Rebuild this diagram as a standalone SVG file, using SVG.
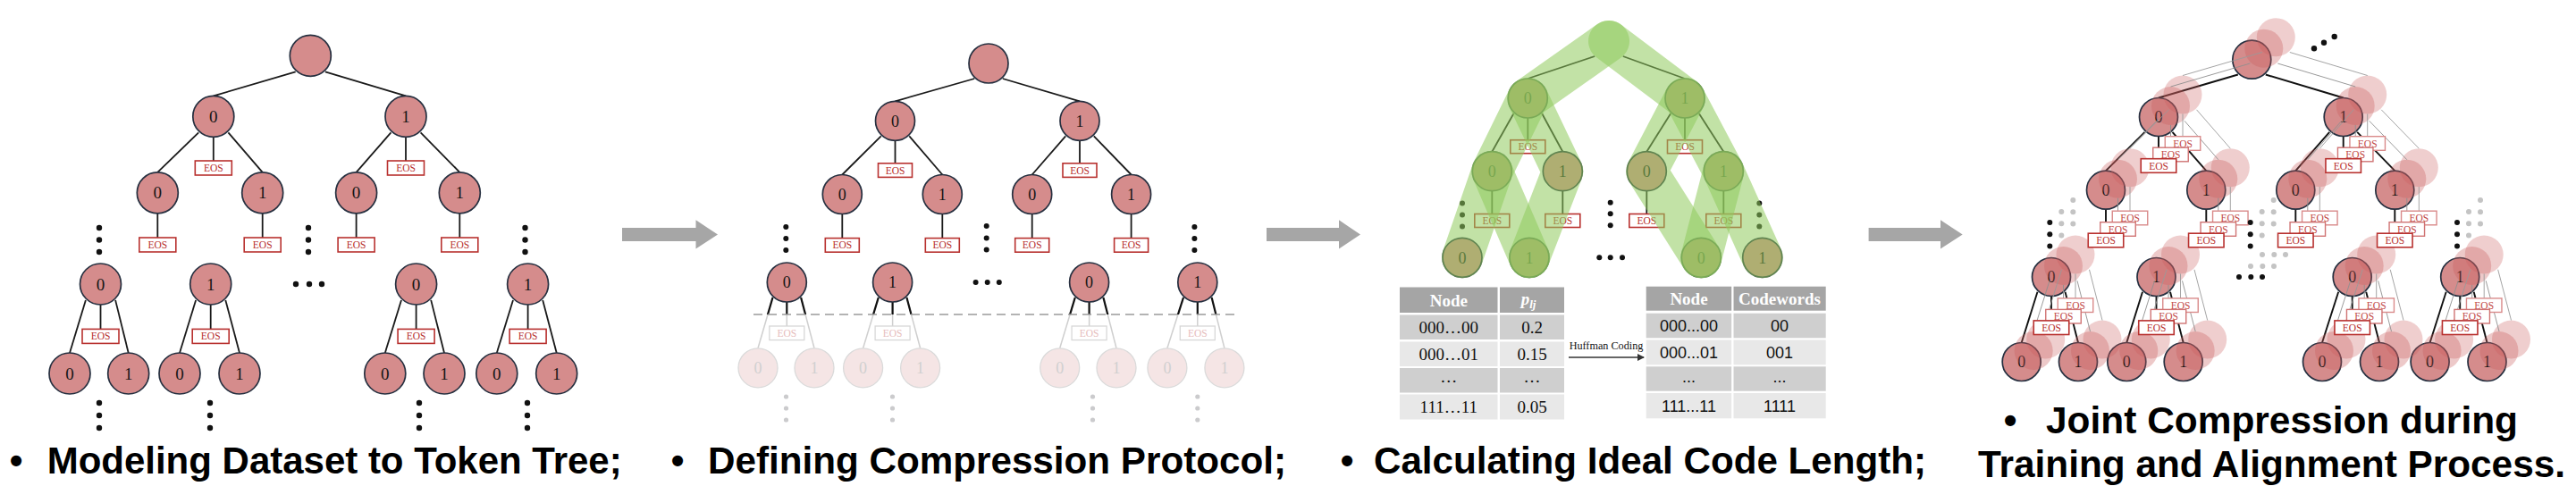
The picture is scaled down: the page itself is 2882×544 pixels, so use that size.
<svg xmlns="http://www.w3.org/2000/svg" xmlns:xlink="http://www.w3.org/1999/xlink" width="2882" height="544" viewBox="0 0 2882 544">
<style>
.n{fill:#d58c8c;stroke:#263040;stroke-width:1.7}
.nt{font-family:"Liberation Serif","Times New Roman",serif;font-size:18px;fill:#161616;text-anchor:middle}
.nt1{font-size:19px}
.fn{fill:#f5e5e5;stroke:#dadada;stroke-width:1.3}
.ft{font-family:"Liberation Serif",serif;font-size:18px;fill:#d0d0d0;text-anchor:middle}
.eos rect{fill:#fff;stroke:#b8312f;stroke-width:1.6}
.eos text{font-family:"Liberation Serif",serif;font-size:11.5px;fill:#b8312f;text-anchor:middle}
.feos rect{fill:#fff;stroke:#d8d8d8;stroke-width:1.3}
.feos text{font-family:"Liberation Serif",serif;font-size:11.5px;fill:#e6bcbc;text-anchor:middle}
.e line{stroke:#1a1a1a;stroke-width:1.8}
.dot{fill:#111}
.fdot{fill:#cbcbcd}
.band{fill:none;stroke:#8fcb5c;stroke-opacity:.55;stroke-width:46;stroke-linecap:round;stroke-linejoin:round}
.cap{font-family:"Liberation Sans",Arial,sans-serif;font-weight:bold;font-size:42px;fill:#000}
.bul{font-family:"Liberation Sans",Arial,sans-serif;font-weight:bold;font-size:42px;fill:#000;text-anchor:middle}
.arrow{fill:#a6a6a6}
.th{font-family:"Liberation Serif",serif;font-weight:bold;font-size:19px;fill:#fff;text-anchor:middle}
.td1{font-family:"Liberation Serif",serif;font-size:19px;fill:#111;text-anchor:middle}
.td2{font-family:"Liberation Sans",Arial,sans-serif;font-size:18px;fill:#111;text-anchor:middle}
.hdr{fill:#a5a5a5}
.rd{fill:#cfcfcf}
.rl{fill:#e8e8e8}
</style>
<defs>
<clipPath id="above"><rect x="800" y="290" width="620" height="62"/></clipPath>
<marker id="ah" markerWidth="8" markerHeight="8" refX="7" refY="4" orient="auto" markerUnits="userSpaceOnUse"><path d="M0,0 L8,4 L0,8 z" fill="#333"/></marker>
<g id="t2L">
<line x1="864.5" y1="333" x2="848" y2="389.8"/><line x1="896.1" y1="333" x2="911" y2="389.8"/><line x1="880.3" y1="338" x2="880.3" y2="365"/>
<line x1="982.8" y1="333" x2="965.6" y2="389.8"/><line x1="1014.4" y1="333" x2="1029.6" y2="389.8"/><line x1="998.6" y1="338" x2="998.6" y2="365"/>
<line x1="1202.8" y1="333" x2="1185.7" y2="389.8"/><line x1="1234.4" y1="333" x2="1249" y2="389.8"/><line x1="1218.6" y1="338" x2="1218.6" y2="365"/>
<line x1="1324" y1="333" x2="1305.9" y2="389.8"/><line x1="1355.6" y1="333" x2="1369.9" y2="389.8"/><line x1="1339.8" y1="338" x2="1339.8" y2="365"/>
</g>
<g id="t4E">
<line x1="2503.8" y1="83.5" x2="2415" y2="109.5"/><line x1="2534.8" y1="83.5" x2="2621.7" y2="109.5"/>
<line x1="2399.5" y1="147.8" x2="2356" y2="191.2"/><line x1="2430.5" y1="147.8" x2="2468.3" y2="191.2"/><line x1="2415" y1="152.5" x2="2415" y2="177.7"/>
<line x1="2606.2" y1="147.8" x2="2568.3" y2="191.2"/><line x1="2637.2" y1="147.8" x2="2679.3" y2="191.2"/><line x1="2621.7" y1="152.5" x2="2621.7" y2="177.7"/>
<line x1="2356" y1="234.2" x2="2356" y2="261.2"/><line x1="2468.3" y1="234.2" x2="2468.3" y2="261.2"/><line x1="2568.3" y1="234.2" x2="2568.3" y2="261.2"/><line x1="2679.3" y1="234.2" x2="2679.3" y2="261.2"/>
<line x1="2279.5" y1="326.8" x2="2261.7" y2="383.5"/><line x1="2310.5" y1="326.8" x2="2325" y2="383.5"/><line x1="2295" y1="331.5" x2="2295" y2="358.9"/>
<line x1="2397" y1="326.8" x2="2379.3" y2="383.5"/><line x1="2428" y1="326.8" x2="2442.7" y2="383.5"/><line x1="2412.5" y1="331.5" x2="2412.5" y2="358.9"/>
<line x1="2616.2" y1="326.8" x2="2598" y2="383.5"/><line x1="2647.2" y1="326.8" x2="2662" y2="383.5"/><line x1="2631.7" y1="331.5" x2="2631.7" y2="358.9"/>
<line x1="2736.7" y1="326.8" x2="2718.6" y2="383.5"/><line x1="2767.7" y1="326.8" x2="2782.5" y2="383.5"/><line x1="2752.2" y1="331.5" x2="2752.2" y2="358.9"/>
</g>
<g id="t4C">
<circle cx="2519.3" cy="66.7" r="21.5"/>
<circle cx="2415" cy="131" r="21.5"/><circle cx="2621.7" cy="131" r="21.5"/>
<circle cx="2356" cy="212.7" r="21.5"/><circle cx="2468.3" cy="212.7" r="21.5"/><circle cx="2568.3" cy="212.7" r="21.5"/><circle cx="2679.3" cy="212.7" r="21.5"/>
<circle cx="2295" cy="310" r="21.5"/><circle cx="2412.5" cy="310" r="21.5"/><circle cx="2631.7" cy="310" r="21.5"/><circle cx="2752.2" cy="310" r="21.5"/>
<circle cx="2261.7" cy="405" r="21.5"/><circle cx="2325" cy="405" r="21.5"/><circle cx="2379.3" cy="405" r="21.5"/><circle cx="2442.7" cy="405" r="21.5"/>
<circle cx="2598" cy="405" r="21.5"/><circle cx="2662" cy="405" r="21.5"/><circle cx="2718.6" cy="405" r="21.5"/><circle cx="2782.5" cy="405" r="21.5"/>
</g>
<g id="t4B" font-family="Liberation Serif, serif" font-size="11.5" text-anchor="middle">
<rect x="2395.25" y="177.7" width="39.5" height="15.6" fill="#fff" stroke-width="1.4"/><text x="2415" y="189.5" fill="#c24a48" stroke="none">EOS</text>
<rect x="2601.95" y="177.7" width="39.5" height="15.6" fill="#fff" stroke-width="1.4"/><text x="2621.7" y="189.5" fill="#c24a48" stroke="none">EOS</text>
<rect x="2336.25" y="261.2" width="39.5" height="15.6" fill="#fff" stroke-width="1.4"/><text x="2356" y="273" fill="#c24a48" stroke="none">EOS</text>
<rect x="2448.55" y="261.2" width="39.5" height="15.6" fill="#fff" stroke-width="1.4"/><text x="2468.3" y="273" fill="#c24a48" stroke="none">EOS</text>
<rect x="2548.55" y="261.2" width="39.5" height="15.6" fill="#fff" stroke-width="1.4"/><text x="2568.3" y="273" fill="#c24a48" stroke="none">EOS</text>
<rect x="2659.55" y="261.2" width="39.5" height="15.6" fill="#fff" stroke-width="1.4"/><text x="2679.3" y="273" fill="#c24a48" stroke="none">EOS</text>
<rect x="2275.25" y="358.9" width="39.5" height="15.6" fill="#fff" stroke-width="1.4"/><text x="2295" y="370.7" fill="#c24a48" stroke="none">EOS</text>
<rect x="2392.75" y="358.9" width="39.5" height="15.6" fill="#fff" stroke-width="1.4"/><text x="2412.5" y="370.7" fill="#c24a48" stroke="none">EOS</text>
<rect x="2611.95" y="358.9" width="39.5" height="15.6" fill="#fff" stroke-width="1.4"/><text x="2631.7" y="370.7" fill="#c24a48" stroke="none">EOS</text>
<rect x="2732.45" y="358.9" width="39.5" height="15.6" fill="#fff" stroke-width="1.4"/><text x="2752.2" y="370.7" fill="#c24a48" stroke="none">EOS</text>
</g>
<g id="t4D">
<circle cx="2293.3" cy="249" r="3"/><circle cx="2293.3" cy="262.3" r="3"/><circle cx="2293.3" cy="275.5" r="3"/>
<circle cx="2517.7" cy="249" r="3"/><circle cx="2517.7" cy="262.3" r="3"/><circle cx="2517.7" cy="275.5" r="3"/>
<circle cx="2749" cy="249" r="3"/><circle cx="2749" cy="262.3" r="3"/><circle cx="2749" cy="275.5" r="3"/>
<circle cx="2505" cy="310" r="3"/><circle cx="2518.3" cy="310" r="3"/><circle cx="2531" cy="310" r="3"/>
</g>
</defs>

<rect x="0" y="0" width="2882" height="544" fill="#fff"/>

<g id="connectors" class="e">
<line x1="330.7" y1="80.3" x2="238.8" y2="107.4"/><line x1="363.9" y1="80.3" x2="454" y2="107.4"/>
<line x1="222.2" y1="148.3" x2="176.3" y2="192.8"/><line x1="255.4" y1="148.3" x2="293.7" y2="192.8"/><line x1="238.8" y1="153" x2="238.8" y2="180"/>
<line x1="437.4" y1="148.3" x2="398.6" y2="192.8"/><line x1="470.6" y1="148.3" x2="514.3" y2="192.8"/><line x1="454" y1="153" x2="454" y2="180"/>
<line x1="176.3" y1="238.8" x2="176.3" y2="266"/><line x1="293.7" y1="238.8" x2="293.7" y2="266"/><line x1="398.6" y1="238.8" x2="398.6" y2="266"/><line x1="514.3" y1="238.8" x2="514.3" y2="266"/>
<line x1="95.9" y1="335.9" x2="78" y2="395"/><line x1="129.1" y1="335.9" x2="143.7" y2="395"/><line x1="112.5" y1="341" x2="112.5" y2="368.4"/>
<line x1="219.1" y1="335.9" x2="201" y2="395"/><line x1="252.3" y1="335.9" x2="268" y2="395"/><line x1="235.7" y1="341" x2="235.7" y2="368.4"/>
<line x1="449" y1="335.9" x2="430.8" y2="395"/><line x1="482.2" y1="335.9" x2="497" y2="395"/><line x1="465.6" y1="341" x2="465.6" y2="368.4"/>
<line x1="574" y1="335.9" x2="555.8" y2="395"/><line x1="607.2" y1="335.9" x2="622.7" y2="395"/><line x1="590.6" y1="341" x2="590.6" y2="368.4"/>
<line x1="1090.2" y1="88" x2="1001.5" y2="113.3"/><line x1="1121.8" y1="88" x2="1208" y2="113.3"/>
<line x1="985.7" y1="152.3" x2="942.3" y2="195.5"/><line x1="1017.3" y1="152.3" x2="1054.3" y2="195.5"/><line x1="1001.5" y1="157.3" x2="1001.5" y2="182.8"/>
<line x1="1192.2" y1="152.3" x2="1154.7" y2="195.5"/><line x1="1223.8" y1="152.3" x2="1265.6" y2="195.5"/><line x1="1208" y1="157.3" x2="1208" y2="182.8"/>
<line x1="942.3" y1="239.5" x2="942.3" y2="266.6"/><line x1="1054.3" y1="239.5" x2="1054.3" y2="266.6"/><line x1="1154.7" y1="239.5" x2="1154.7" y2="266.6"/><line x1="1265.6" y1="239.5" x2="1265.6" y2="266.6"/>
<use href="#t2L" style="stroke:#cfcfcf;stroke-width:1.5"/>
<use href="#t2L" clip-path="url(#above)" style="stroke:#111;stroke-width:2.2"/>
<line x1="843" y1="352" x2="1386" y2="352" style="stroke:#9a9a9a;stroke-width:1.6;stroke-dasharray:10 6"/>
<line x1="1784.2" y1="63" x2="1709.3" y2="88"/><line x1="1815.8" y1="63" x2="1885" y2="88"/>
<line x1="1693.5" y1="127" x2="1669.3" y2="169.7"/><line x1="1725.1" y1="127" x2="1748.3" y2="169.7"/><line x1="1709.3" y1="132" x2="1709.3" y2="156.7"/>
<line x1="1869.2" y1="127" x2="1842.3" y2="169.7"/><line x1="1900.8" y1="127" x2="1928.3" y2="169.7"/><line x1="1885" y1="132" x2="1885" y2="156.7"/>
<line x1="1669.3" y1="213.7" x2="1669.3" y2="239.5"/><line x1="1748.3" y1="213.7" x2="1748.3" y2="239.5"/><line x1="1842.3" y1="213.7" x2="1842.3" y2="239.5"/><line x1="1928.3" y1="213.7" x2="1928.3" y2="239.5"/>
<use href="#t4E" style="stroke:#111;stroke-width:1.9"/>
<line x1="1755" y1="400" x2="1839" y2="400" marker-end="url(#ah)" style="stroke:#333;stroke-width:1.4"/>
</g>

<g id="t1-n0"><circle class="n" cx="347.3" cy="62.4" r="23"/></g>
<g id="t1-n1"><circle class="n" cx="238.8" cy="130.4" r="23"/><text class="nt nt1" x="238.8" y="137">0</text></g>
<g id="t1-n2"><circle class="n" cx="454" cy="130.4" r="23"/><text class="nt nt1" x="454" y="137">1</text></g>
<g id="t1-n3"><circle class="n" cx="176.3" cy="215.8" r="23"/><text class="nt nt1" x="176.3" y="222.4">0</text></g>
<g id="t1-n4"><circle class="n" cx="293.7" cy="215.8" r="23"/><text class="nt nt1" x="293.7" y="222.4">1</text></g>
<g id="t1-n5"><circle class="n" cx="398.6" cy="215.8" r="23"/><text class="nt nt1" x="398.6" y="222.4">0</text></g>
<g id="t1-n6"><circle class="n" cx="514.3" cy="215.8" r="23"/><text class="nt nt1" x="514.3" y="222.4">1</text></g>
<g id="t1-n7"><circle class="n" cx="112.5" cy="318" r="23"/><text class="nt nt1" x="112.5" y="324.6">0</text></g>
<g id="t1-n8"><circle class="n" cx="235.7" cy="318" r="23"/><text class="nt nt1" x="235.7" y="324.6">1</text></g>
<g id="t1-n9"><circle class="n" cx="465.6" cy="318" r="23"/><text class="nt nt1" x="465.6" y="324.6">0</text></g>
<g id="t1-n10"><circle class="n" cx="590.6" cy="318" r="23"/><text class="nt nt1" x="590.6" y="324.6">1</text></g>
<g id="t1-n11"><circle class="n" cx="78" cy="418" r="23"/><text class="nt nt1" x="78" y="424.6">0</text></g>
<g id="t1-n12"><circle class="n" cx="143.7" cy="418" r="23"/><text class="nt nt1" x="143.7" y="424.6">1</text></g>
<g id="t1-n13"><circle class="n" cx="201" cy="418" r="23"/><text class="nt nt1" x="201" y="424.6">0</text></g>
<g id="t1-n14"><circle class="n" cx="268" cy="418" r="23"/><text class="nt nt1" x="268" y="424.6">1</text></g>
<g id="t1-n15"><circle class="n" cx="430.8" cy="418" r="23"/><text class="nt nt1" x="430.8" y="424.6">0</text></g>
<g id="t1-n16"><circle class="n" cx="497" cy="418" r="23"/><text class="nt nt1" x="497" y="424.6">1</text></g>
<g id="t1-n17"><circle class="n" cx="555.8" cy="418" r="23"/><text class="nt nt1" x="555.8" y="424.6">0</text></g>
<g id="t1-n18"><circle class="n" cx="622.7" cy="418" r="23"/><text class="nt nt1" x="622.7" y="424.6">1</text></g>
<g id="t1-eos1" class="eos"><rect x="218.3" y="180" width="41" height="16"/><text x="238.8" y="192">EOS</text></g>
<g id="t1-eos2" class="eos"><rect x="433.5" y="180" width="41" height="16"/><text x="454" y="192">EOS</text></g>
<g id="t1-eos3" class="eos"><rect x="155.8" y="266" width="41" height="16"/><text x="176.3" y="278">EOS</text></g>
<g id="t1-eos4" class="eos"><rect x="273.2" y="266" width="41" height="16"/><text x="293.7" y="278">EOS</text></g>
<g id="t1-eos5" class="eos"><rect x="378.1" y="266" width="41" height="16"/><text x="398.6" y="278">EOS</text></g>
<g id="t1-eos6" class="eos"><rect x="493.8" y="266" width="41" height="16"/><text x="514.3" y="278">EOS</text></g>
<g id="t1-eos7" class="eos"><rect x="92" y="368.4" width="41" height="16"/><text x="112.5" y="380.4">EOS</text></g>
<g id="t1-eos8" class="eos"><rect x="215.2" y="368.4" width="41" height="16"/><text x="235.7" y="380.4">EOS</text></g>
<g id="t1-eos9" class="eos"><rect x="445.1" y="368.4" width="41" height="16"/><text x="465.6" y="380.4">EOS</text></g>
<g id="t1-eos10" class="eos"><rect x="570.1" y="368.4" width="41" height="16"/><text x="590.6" y="380.4">EOS</text></g>
<g id="t1-dots" class="dot">
<circle cx="111" cy="255" r="3.2"/><circle cx="111" cy="268.5" r="3.2"/><circle cx="111" cy="282" r="3.2"/>
<circle cx="345" cy="255" r="3.2"/><circle cx="345" cy="268.5" r="3.2"/><circle cx="345" cy="282" r="3.2"/>
<circle cx="587.5" cy="255" r="3.2"/><circle cx="587.5" cy="268.5" r="3.2"/><circle cx="587.5" cy="282" r="3.2"/>
<circle cx="331" cy="318" r="3.2"/><circle cx="346" cy="318" r="3.2"/><circle cx="360" cy="318" r="3.2"/>
<circle cx="111" cy="451" r="3.2"/><circle cx="111" cy="465" r="3.2"/><circle cx="111" cy="479" r="3.2"/>
<circle cx="235" cy="451" r="3.2"/><circle cx="235" cy="465" r="3.2"/><circle cx="235" cy="479" r="3.2"/>
<circle cx="469" cy="451" r="3.2"/><circle cx="469" cy="465" r="3.2"/><circle cx="469" cy="479" r="3.2"/>
<circle cx="590" cy="451" r="3.2"/><circle cx="590" cy="465" r="3.2"/><circle cx="590" cy="479" r="3.2"/>
</g>

<g id="t2-n0"><circle class="n" cx="1106" cy="71" r="22"/></g>
<g id="t2-n1"><circle class="n" cx="1001.5" cy="135.3" r="22"/><text class="nt" x="1001.5" y="141.5">0</text></g>
<g id="t2-n2"><circle class="n" cx="1208" cy="135.3" r="22"/><text class="nt" x="1208" y="141.5">1</text></g>
<g id="t2-n3"><circle class="n" cx="942.3" cy="217.5" r="22"/><text class="nt" x="942.3" y="223.7">0</text></g>
<g id="t2-n4"><circle class="n" cx="1054.3" cy="217.5" r="22"/><text class="nt" x="1054.3" y="223.7">1</text></g>
<g id="t2-n5"><circle class="n" cx="1154.7" cy="217.5" r="22"/><text class="nt" x="1154.7" y="223.7">0</text></g>
<g id="t2-n6"><circle class="n" cx="1265.6" cy="217.5" r="22"/><text class="nt" x="1265.6" y="223.7">1</text></g>
<g id="t2-n7"><circle class="n" cx="880.3" cy="316" r="22"/><text class="nt" x="880.3" y="322.2">0</text></g>
<g id="t2-n8"><circle class="n" cx="998.6" cy="316" r="22"/><text class="nt" x="998.6" y="322.2">1</text></g>
<g id="t2-n9"><circle class="n" cx="1218.6" cy="316" r="22"/><text class="nt" x="1218.6" y="322.2">0</text></g>
<g id="t2-n10"><circle class="n" cx="1339.8" cy="316" r="22"/><text class="nt" x="1339.8" y="322.2">1</text></g>
<g id="t2-n11"><circle class="fn" cx="848" cy="411.8" r="22"/><text class="ft" x="848" y="418">0</text></g>
<g id="t2-n12"><circle class="fn" cx="911" cy="411.8" r="22"/><text class="ft" x="911" y="418">1</text></g>
<g id="t2-n13"><circle class="fn" cx="965.6" cy="411.8" r="22"/><text class="ft" x="965.6" y="418">0</text></g>
<g id="t2-n14"><circle class="fn" cx="1029.6" cy="411.8" r="22"/><text class="ft" x="1029.6" y="418">1</text></g>
<g id="t2-n15"><circle class="fn" cx="1185.7" cy="411.8" r="22"/><text class="ft" x="1185.7" y="418">0</text></g>
<g id="t2-n16"><circle class="fn" cx="1249" cy="411.8" r="22"/><text class="ft" x="1249" y="418">1</text></g>
<g id="t2-n17"><circle class="fn" cx="1305.9" cy="411.8" r="22"/><text class="ft" x="1305.9" y="418">0</text></g>
<g id="t2-n18"><circle class="fn" cx="1369.9" cy="411.8" r="22"/><text class="ft" x="1369.9" y="418">1</text></g>
<g id="t2-eos1" class="eos"><rect x="982.5" y="182.8" width="38" height="15.6"/><text x="1001.5" y="194.6">EOS</text></g>
<g id="t2-eos2" class="eos"><rect x="1189" y="182.8" width="38" height="15.6"/><text x="1208" y="194.6">EOS</text></g>
<g id="t2-eos3" class="eos"><rect x="923.3" y="266.6" width="38" height="15.6"/><text x="942.3" y="278.4">EOS</text></g>
<g id="t2-eos4" class="eos"><rect x="1035.3" y="266.6" width="38" height="15.6"/><text x="1054.3" y="278.4">EOS</text></g>
<g id="t2-eos5" class="eos"><rect x="1135.7" y="266.6" width="38" height="15.6"/><text x="1154.7" y="278.4">EOS</text></g>
<g id="t2-eos6" class="eos"><rect x="1246.6" y="266.6" width="38" height="15.6"/><text x="1265.6" y="278.4">EOS</text></g>
<g id="t2-eos7" class="feos"><rect x="860.8" y="365" width="39" height="15.6"/><text x="880.3" y="376.8">EOS</text></g>
<g id="t2-eos8" class="feos"><rect x="979.1" y="365" width="39" height="15.6"/><text x="998.6" y="376.8">EOS</text></g>
<g id="t2-eos9" class="feos"><rect x="1199.1" y="365" width="39" height="15.6"/><text x="1218.6" y="376.8">EOS</text></g>
<g id="t2-eos10" class="feos"><rect x="1320.3" y="365" width="39" height="15.6"/><text x="1339.8" y="376.8">EOS</text></g>
<g id="t2-dots" class="dot">
<circle cx="879.3" cy="254" r="3"/><circle cx="879.3" cy="267" r="3"/><circle cx="879.3" cy="280" r="3"/>
<circle cx="1103.7" cy="253" r="3"/><circle cx="1103.7" cy="266.4" r="3"/><circle cx="1103.7" cy="279.5" r="3"/>
<circle cx="1336.4" cy="254" r="3"/><circle cx="1336.4" cy="267" r="3"/><circle cx="1336.4" cy="280" r="3"/>
<circle cx="1091.6" cy="316" r="3"/><circle cx="1104.7" cy="316" r="3"/><circle cx="1117.8" cy="316" r="3"/>
</g>
<g id="t2-fdots" class="fdot">
<circle cx="879.5" cy="444" r="2.6"/><circle cx="879.5" cy="457" r="2.6"/><circle cx="879.5" cy="470" r="2.6"/>
<circle cx="998.5" cy="444" r="2.6"/><circle cx="998.5" cy="457" r="2.6"/><circle cx="998.5" cy="470" r="2.6"/>
<circle cx="1222.5" cy="444" r="2.6"/><circle cx="1222.5" cy="457" r="2.6"/><circle cx="1222.5" cy="470" r="2.6"/>
<circle cx="1339.8" cy="444" r="2.6"/><circle cx="1339.8" cy="457" r="2.6"/><circle cx="1339.8" cy="470" r="2.6"/>
</g>

<g id="t3-n1"><circle class="n" cx="1709.3" cy="110" r="22"/><text class="nt" x="1709.3" y="116.2">0</text></g>
<g id="t3-n2"><circle class="n" cx="1885" cy="110" r="22"/><text class="nt" x="1885" y="116.2">1</text></g>
<g id="t3-n3"><circle class="n" cx="1669.3" cy="191.7" r="22"/><text class="nt" x="1669.3" y="197.9">0</text></g>
<g id="t3-n4"><circle class="n" cx="1748.3" cy="191.7" r="22"/><text class="nt" x="1748.3" y="197.9">1</text></g>
<g id="t3-n5"><circle class="n" cx="1842.3" cy="191.7" r="22"/><text class="nt" x="1842.3" y="197.9">0</text></g>
<g id="t3-n6"><circle class="n" cx="1928.3" cy="191.7" r="22"/><text class="nt" x="1928.3" y="197.9">1</text></g>
<g id="t3-n7"><circle class="n" cx="1636" cy="288.3" r="22"/><text class="nt" x="1636" y="294.5">0</text></g>
<g id="t3-n8"><circle class="n" cx="1711" cy="288.3" r="22"/><text class="nt" x="1711" y="294.5">1</text></g>
<g id="t3-n9"><circle class="n" cx="1903.3" cy="288.3" r="22"/><text class="nt" x="1903.3" y="294.5">0</text></g>
<g id="t3-n10"><circle class="n" cx="1971.7" cy="288.3" r="22"/><text class="nt" x="1971.7" y="294.5">1</text></g>
<g id="t3-eos1" class="eos"><rect x="1689.8" y="156.7" width="39" height="15"/><text x="1709.3" y="168.2">EOS</text></g>
<g id="t3-eos2" class="eos"><rect x="1865.5" y="156.7" width="39" height="15"/><text x="1885" y="168.2">EOS</text></g>
<g id="t3-eos3" class="eos"><rect x="1649.8" y="239.5" width="39" height="15"/><text x="1669.3" y="251">EOS</text></g>
<g id="t3-eos4" class="eos"><rect x="1728.8" y="239.5" width="39" height="15"/><text x="1748.3" y="251">EOS</text></g>
<g id="t3-eos5" class="eos"><rect x="1822.8" y="239.5" width="39" height="15"/><text x="1842.3" y="251">EOS</text></g>
<g id="t3-eos6" class="eos"><rect x="1908.8" y="239.5" width="39" height="15"/><text x="1928.3" y="251">EOS</text></g>
<g id="t3-dots" class="dot">
<circle cx="1636" cy="227.5" r="3"/><circle cx="1636" cy="240.5" r="3"/><circle cx="1636" cy="253.5" r="3"/>
<circle cx="1801.7" cy="226.7" r="3"/><circle cx="1801.7" cy="239.3" r="3"/><circle cx="1801.7" cy="252.3" r="3"/>
<circle cx="1968.3" cy="227.5" r="3"/><circle cx="1968.3" cy="240.5" r="3"/><circle cx="1968.3" cy="253.5" r="3"/>
<circle cx="1789.3" cy="288.3" r="3"/><circle cx="1801.7" cy="288.3" r="3"/><circle cx="1815" cy="288.3" r="3"/>
</g>
<g id="t3-paths">
<path class="band" d="M1800,46 L1709.3,110 L1669.3,191.7 L1636,288.3"/>
<path class="band" d="M1709.3,110 L1748.3,191.7 L1711,288.3"/>
<path class="band" d="M1669.3,191.7 L1711,288.3"/>
<path class="band" d="M1800,46 L1885,110 L1928.3,191.7 L1971.7,288.3"/>
<path class="band" d="M1885,110 L1842.3,191.7 L1903.3,288.3"/>
<path class="band" d="M1928.3,191.7 L1903.3,288.3"/>
</g>

<g id="t3-table-prob">
<rect class="hdr" x="1566" y="321.5" width="109.5" height="28.5"/><rect class="hdr" x="1678" y="321.5" width="72" height="28.5"/>
<rect class="rd" x="1566" y="352.5" width="109.5" height="27.5"/><rect class="rd" x="1678" y="352.5" width="72" height="27.5"/>
<rect class="rl" x="1566" y="382.5" width="109.5" height="27.5"/><rect class="rl" x="1678" y="382.5" width="72" height="27.5"/>
<rect class="rd" x="1566" y="412" width="109.5" height="27.5"/><rect class="rd" x="1678" y="412" width="72" height="27.5"/>
<rect class="rl" x="1566" y="441.5" width="109.5" height="28"/><rect class="rl" x="1678" y="441.5" width="72" height="28"/>
<text class="th" x="1620.8" y="342.5">Node</text>
<text class="th" x="1710" y="341" font-style="italic">p<tspan font-size="13" dy="4">lj</tspan></text>
<text class="td1" x="1620.8" y="372.5">000…00</text><text class="td1" x="1714" y="372.5">0.2</text>
<text class="td1" x="1620.8" y="402.5">000…01</text><text class="td1" x="1714" y="402.5">0.15</text>
<text class="td1" x="1620.8" y="427.5" font-size="14">…</text><text class="td1" x="1714" y="427.5" font-size="14">…</text>
<text class="td1" x="1620.8" y="461.5">111…11</text><text class="td1" x="1714" y="461.5">0.05</text>
</g>
<g id="t3-huffman-label"><text x="1797" y="390.7" font-family="Liberation Serif, serif" font-size="12.2" fill="#111" text-anchor="middle">Huffman Coding</text></g>
<g id="t3-table-code">
<rect class="hdr" x="1841.7" y="320.7" width="95.5" height="27"/><rect class="hdr" x="1939.5" y="320.7" width="103.2" height="27"/>
<rect class="rd" x="1841.7" y="350.7" width="95.5" height="27.6"/><rect class="rd" x="1939.5" y="350.7" width="103.2" height="27.6"/>
<rect class="rl" x="1841.7" y="380.5" width="95.5" height="27.8"/><rect class="rl" x="1939.5" y="380.5" width="103.2" height="27.8"/>
<rect class="rd" x="1841.7" y="410.3" width="95.5" height="27.4"/><rect class="rd" x="1939.5" y="410.3" width="103.2" height="27.4"/>
<rect class="rl" x="1841.7" y="440" width="95.5" height="28.3"/><rect class="rl" x="1939.5" y="440" width="103.2" height="28.3"/>
<text class="th" x="1889.5" y="340.7">Node</text><text class="th" x="1991" y="340.7">Codewords</text>
<text class="td2" x="1889.5" y="370.7">000...00</text><text class="td2" x="1991" y="370.7">00</text>
<text class="td2" x="1889.5" y="400.6">000...01</text><text class="td2" x="1991" y="400.6">001</text>
<text class="td2" x="1889.5" y="427.5" font-size="16">...</text><text class="td2" x="1991" y="427.5" font-size="16">...</text>
<text class="td2" x="1889.5" y="460.5">111...11</text><text class="td2" x="1991" y="460.5">1111</text>
</g>

<g id="t4-n0"><circle class="n" cx="2519.3" cy="66.7" r="21.5"/></g>
<g id="t4-n1"><circle class="n" cx="2415" cy="131" r="21.5"/><text class="nt" x="2415" y="137.2">0</text></g>
<g id="t4-n2"><circle class="n" cx="2621.7" cy="131" r="21.5"/><text class="nt" x="2621.7" y="137.2">1</text></g>
<g id="t4-n3"><circle class="n" cx="2356" cy="212.7" r="21.5"/><text class="nt" x="2356" y="218.9">0</text></g>
<g id="t4-n4"><circle class="n" cx="2468.3" cy="212.7" r="21.5"/><text class="nt" x="2468.3" y="218.9">1</text></g>
<g id="t4-n5"><circle class="n" cx="2568.3" cy="212.7" r="21.5"/><text class="nt" x="2568.3" y="218.9">0</text></g>
<g id="t4-n6"><circle class="n" cx="2679.3" cy="212.7" r="21.5"/><text class="nt" x="2679.3" y="218.9">1</text></g>
<g id="t4-n7"><circle class="n" cx="2295" cy="310" r="21.5"/><text class="nt" x="2295" y="316.2">0</text></g>
<g id="t4-n8"><circle class="n" cx="2412.5" cy="310" r="21.5"/><text class="nt" x="2412.5" y="316.2">1</text></g>
<g id="t4-n9"><circle class="n" cx="2631.7" cy="310" r="21.5"/><text class="nt" x="2631.7" y="316.2">0</text></g>
<g id="t4-n10"><circle class="n" cx="2752.2" cy="310" r="21.5"/><text class="nt" x="2752.2" y="316.2">1</text></g>
<g id="t4-n11"><circle class="n" cx="2261.7" cy="405" r="21.5"/><text class="nt" x="2261.7" y="411.2">0</text></g>
<g id="t4-n12"><circle class="n" cx="2325" cy="405" r="21.5"/><text class="nt" x="2325" y="411.2">1</text></g>
<g id="t4-n13"><circle class="n" cx="2379.3" cy="405" r="21.5"/><text class="nt" x="2379.3" y="411.2">0</text></g>
<g id="t4-n14"><circle class="n" cx="2442.7" cy="405" r="21.5"/><text class="nt" x="2442.7" y="411.2">1</text></g>
<g id="t4-n15"><circle class="n" cx="2598" cy="405" r="21.5"/><text class="nt" x="2598" y="411.2">0</text></g>
<g id="t4-n16"><circle class="n" cx="2662" cy="405" r="21.5"/><text class="nt" x="2662" y="411.2">1</text></g>
<g id="t4-n17"><circle class="n" cx="2718.6" cy="405" r="21.5"/><text class="nt" x="2718.6" y="411.2">0</text></g>
<g id="t4-n18"><circle class="n" cx="2782.5" cy="405" r="21.5"/><text class="nt" x="2782.5" y="411.2">1</text></g>

<g id="t4-ghosts">
<use href="#t4C" x="13.5" y="-12.5" fill="#c95c5c" fill-opacity="0.33"/>
<use href="#t4C" x="27" y="-25" fill="#c95c5c" fill-opacity="0.3"/>
<use href="#t4E" x="13.5" y="-12.5" stroke="#8f8f8f" stroke-width="0.9"/>
<use href="#t4E" x="27" y="-25" stroke="#9a9a9a" stroke-width="0.9"/>
<use href="#t4D" x="13" y="-12" fill="#c4c4c4"/>
<use href="#t4D" x="26" y="-25" fill="#c4c4c4"/>
<use href="#t4B" x="27" y="-25" stroke="#d98a8a"/>
<use href="#t4B" x="13.5" y="-12.5" stroke="#d07474"/>
</g>
<g id="t4-eos1" class="eos"><rect x="2395.25" y="177.7" width="39.5" height="15.6"/><text x="2415" y="189.5">EOS</text></g>
<g id="t4-eos2" class="eos"><rect x="2601.95" y="177.7" width="39.5" height="15.6"/><text x="2621.7" y="189.5">EOS</text></g>
<g id="t4-eos3" class="eos"><rect x="2336.25" y="261.2" width="39.5" height="15.6"/><text x="2356" y="273">EOS</text></g>
<g id="t4-eos4" class="eos"><rect x="2448.55" y="261.2" width="39.5" height="15.6"/><text x="2468.3" y="273">EOS</text></g>
<g id="t4-eos5" class="eos"><rect x="2548.55" y="261.2" width="39.5" height="15.6"/><text x="2568.3" y="273">EOS</text></g>
<g id="t4-eos6" class="eos"><rect x="2659.55" y="261.2" width="39.5" height="15.6"/><text x="2679.3" y="273">EOS</text></g>
<g id="t4-eos7" class="eos"><rect x="2275.25" y="358.9" width="39.5" height="15.6"/><text x="2295" y="370.7">EOS</text></g>
<g id="t4-eos8" class="eos"><rect x="2392.75" y="358.9" width="39.5" height="15.6"/><text x="2412.5" y="370.7">EOS</text></g>
<g id="t4-eos9" class="eos"><rect x="2611.95" y="358.9" width="39.5" height="15.6"/><text x="2631.7" y="370.7">EOS</text></g>
<g id="t4-eos10" class="eos"><rect x="2732.45" y="358.9" width="39.5" height="15.6"/><text x="2752.2" y="370.7">EOS</text></g>
<g id="t4-dots" class="dot">
<use href="#t4D"/>
<circle cx="2589" cy="54.3" r="3.2"/><circle cx="2600" cy="47.7" r="3.2"/><circle cx="2611.7" cy="41" r="3.2"/>
</g>

<g id="arrows">
<path class="arrow" d="M696,255 H778.5 V246.3 L803,262.6 L778.5,278.5 V270 H696 Z"/>
<path class="arrow" d="M1417,255 H1498 V246.3 L1522,262.6 L1498,278.5 V270 H1417 Z"/>
<path class="arrow" d="M2090.6,255 H2171 V246.3 L2195.7,262.6 L2171,278.5 V270 H2090.6 Z"/>
</g>

<g id="captions">
<text class="bul" x="18" y="530">•</text>
<text class="cap" x="52.7" y="530" textLength="643" lengthAdjust="spacingAndGlyphs">Modeling Dataset to Token Tree;</text>
<text class="bul" x="758" y="530">•</text>
<text class="cap" x="792" y="530" textLength="647" lengthAdjust="spacingAndGlyphs">Defining Compression Protocol;</text>
<text class="bul" x="1507" y="530">•</text>
<text class="cap" x="1537" y="530" textLength="618" lengthAdjust="spacingAndGlyphs">Calculating Ideal Code Length;</text>
<text class="bul" x="2249" y="485">•</text>
<text class="cap" x="2289" y="485" textLength="528" lengthAdjust="spacingAndGlyphs">Joint Compression during</text>
<text class="cap" x="2213" y="534" textLength="657" lengthAdjust="spacingAndGlyphs">Training and Alignment Process.</text>
</g>
</svg>
